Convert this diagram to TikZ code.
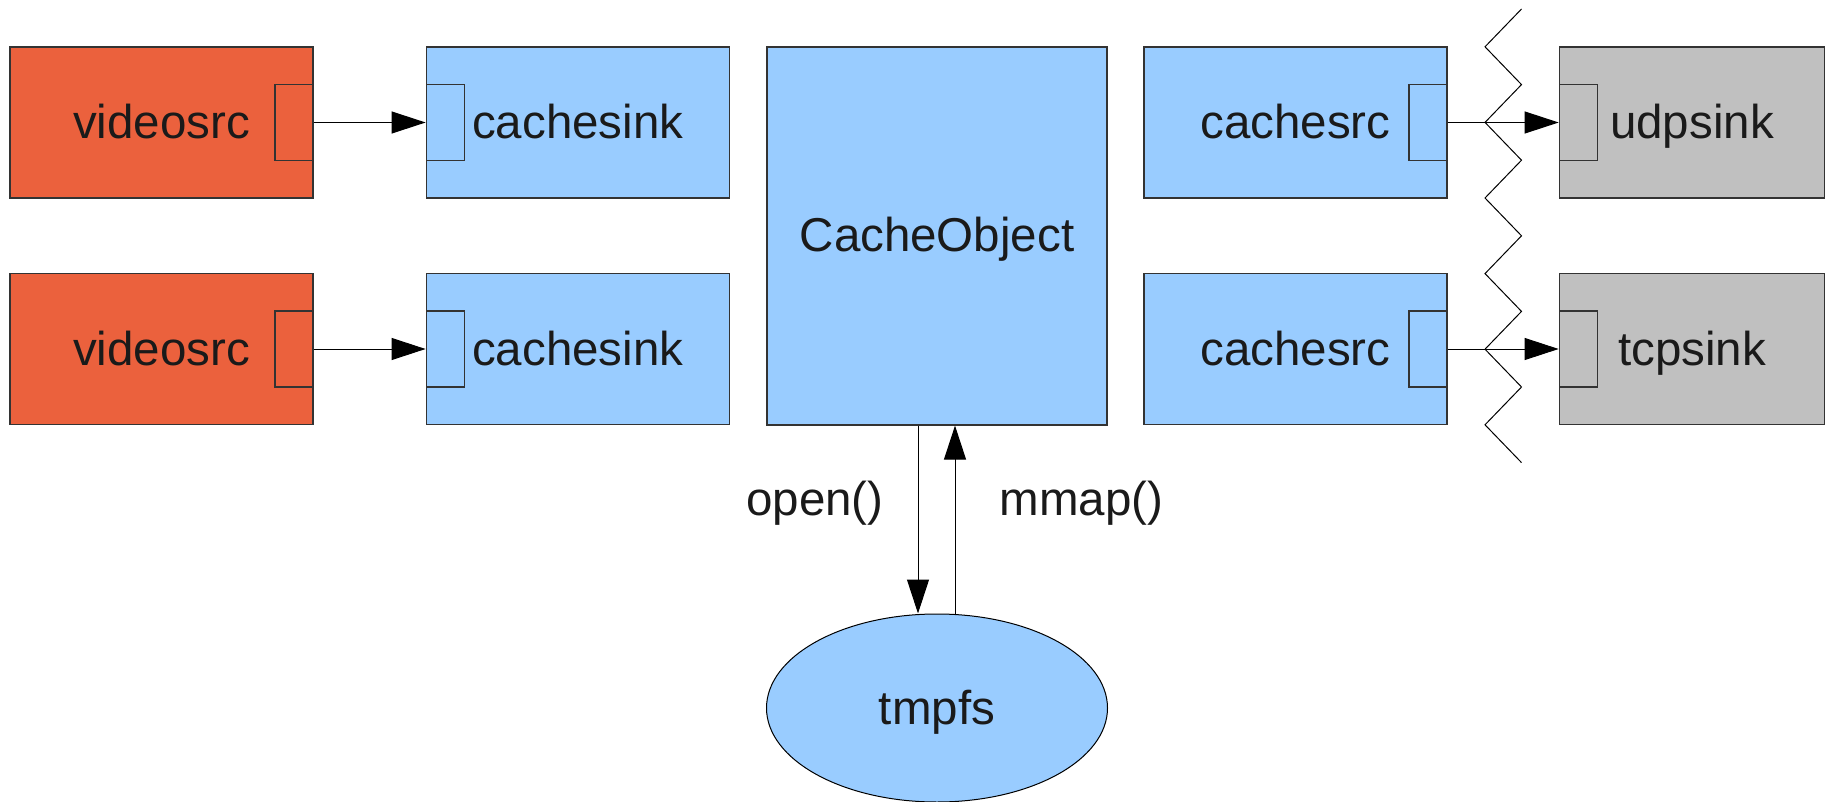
\documentclass[tikz,border=0pt]{standalone}
\usepackage{fontspec}
\setmainfont{Liberation Sans}
\usetikzlibrary{positioning,arrows.meta,shapes.geometric}
\definecolor{srcred}{HTML}{EB613D}
\definecolor{cacheblue}{HTML}{99CCFF}
\definecolor{sinkgray}{HTML}{C0C0C0}
\definecolor{edgegray}{HTML}{333333}
\definecolor{inkblack}{HTML}{1A1A1A}
\begin{document}
\begin{tikzpicture}[x=1pt, y=-1pt,
  every node/.style = {font=\fontsize{47.5}{57}\selectfont, text=inkblack,
    inner sep=0pt, text height=32pt, text depth=0pt},
  element/.style = {shape=rectangle, draw=edgegray, line width=1.2pt,
    minimum width=303pt, minimum height=151pt},
  pad/.style = {shape=rectangle, draw=edgegray, line width=1.2pt,
    minimum width=38pt, minimum height=76pt},
  flow/.style = {-{Triangle[length=34pt, width=22pt]}, line width=1pt}]
  \useasboundingbox (0,0) rectangle (1833,802);

  \node[element, fill=srcred] (src1) at (161.5,122.5) {videosrc};
  \node[element, fill=srcred] (src2) at (161.5,349) {videosrc};
  \node[element, fill=cacheblue, right=112pt of src1] (sink1) {cachesink};
  \node[element, fill=cacheblue, right=112pt of src2] (sink2) {cachesink};
  \node[element, fill=cacheblue, minimum width=340pt, minimum height=378pt]
    (cache) at (937,236) {CacheObject};
  \node[element, fill=cacheblue] (csrc1) at (1295.5,122.5) {cachesrc};
  \node[element, fill=cacheblue] (csrc2) at (1295.5,349) {cachesrc};
  \node[element, fill=sinkgray, minimum width=265.5pt] (udp) at (1692,122.5) {udpsink};
  \node[element, fill=sinkgray, minimum width=265.5pt] (tcp) at (1692,349) {tcpsink};

  \node[pad, fill=srcred, anchor=east] (src1out) at (src1.east) {};
  \node[pad, fill=srcred, anchor=east] (src2out) at (src2.east) {};
  \node[pad, fill=cacheblue, anchor=west] (sink1in) at (sink1.west) {};
  \node[pad, fill=cacheblue, anchor=west] (sink2in) at (sink2.west) {};
  \node[pad, fill=cacheblue, anchor=east] (csrc1out) at (csrc1.east) {};
  \node[pad, fill=cacheblue, anchor=east] (csrc2out) at (csrc2.east) {};
  \node[pad, fill=sinkgray, anchor=west] (udpin) at (udp.west) {};
  \node[pad, fill=sinkgray, anchor=west] (tcpin) at (tcp.west) {};

  \node[ellipse, draw=black, line width=1pt, fill=cacheblue,
    minimum width=341pt, minimum height=188pt] (tmpfs) at (937,708) {tmpfs};

  \draw[flow] (src1out) -- (sink1in);
  \draw[flow] (src2out) -- (sink2in);
  \draw[flow] (csrc1out) -- (udpin);
  \draw[flow] (csrc2out) -- (tcpin);

  \draw[line width=1pt] (1521.5,9)
    foreach \k in {1,...,6} { -- (1485,{9+75.6*\k-37.8}) -- (1521.5,{9+75.6*\k}) };

  \draw[flow] ([xshift=-19pt]cache.south) -- ([xshift=-19pt]cache.south |- tmpfs.north)
    node[midway, left=34pt, yshift=20pt] {open()};
  \draw[flow] ([xshift=18pt]cache.south |- tmpfs.north) -- ([xshift=18pt]cache.south)
    node[midway, right=44pt, yshift=20pt] {mmap()};
\end{tikzpicture}
\end{document}
